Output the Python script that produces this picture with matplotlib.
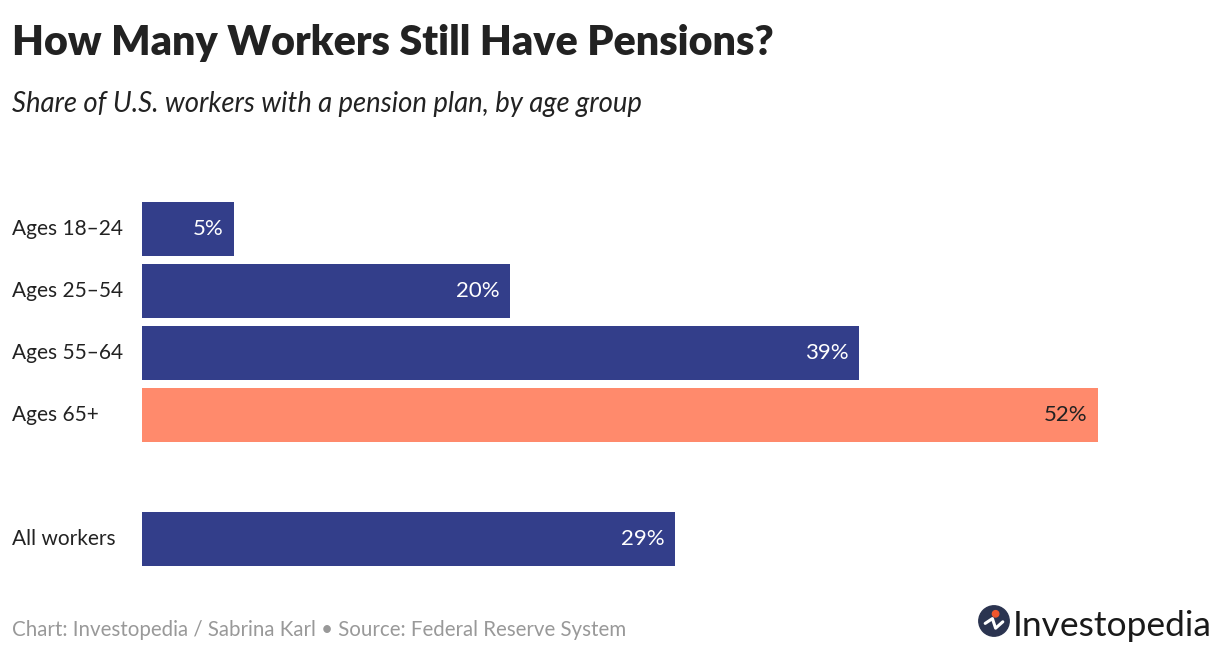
import matplotlib
matplotlib.use("Agg")
import matplotlib.pyplot as plt
from matplotlib.patches import Circle

plt.rcParams["font.family"] = ["Lato", "DejaVu Sans"]

categories = ["Ages 18–24", "Ages 25–54", "Ages 55–64", "Ages 65+", "All workers"]
values = [5, 20, 39, 52, 29]
positions = [0, 1, 2, 3, 5]
highlight = "Ages 65+"

NAVY = "#333e8a"
CORAL = "#ff8a6c"
W, H = 1220, 652

fig = plt.figure(figsize=(W / 100, H / 100), dpi=100)

# axes placed in pixel terms: bars start at x=142, 52% ends at x=1098
left, right = 142, 1098
top, bottom = 198, 570
ax = fig.add_axes([left / W, 1 - bottom / H, (right - left) / W, (bottom - top) / H])

colors = [CORAL if c == highlight else NAVY for c in categories]
ax.barh(positions, values, height=0.87, color=colors)
ax.set_xlim(0, 52)
ax.set_ylim(5.5, -0.5)
ax.axis("off")

for cat, val, pos, col in zip(categories, values, positions, colors):
    txt_col = "#222222" if col == CORAL else "white"
    ax.text(val - 0.55, pos, f"{val}%", ha="right", va="center",
            color=txt_col, fontsize=16)
    ax.text(12 / W, 1 - (top + (pos + 0.5) * 62) / H, cat, transform=fig.transFigure,
            ha="left", va="center", color="#222222", fontsize=15)

fig.text(12 / W, 1 - 55 / H, "How Many Workers Still Have Pensions?",
         fontsize=29.7, fontweight="heavy", color="#222222", ha="left", va="baseline")
fig.text(12 / W, 1 - 112 / H, "Share of U.S. workers with a pension plan, by age group",
         fontsize=19.8, style="italic", color="#222222", ha="left", va="baseline")
fig.text(12 / W, 1 - 636 / H,
         "Chart: Investopedia / Sabrina Karl • Source: Federal Reserve System",
         fontsize=14.8, color="#999999", ha="left", va="baseline")

# logo
lax = fig.add_axes([978 / W, 1 - 637 / H, 32 / W, 32 / H])
lax.set_xlim(-1, 1)
lax.set_ylim(-1, 1)
lax.set_aspect("equal")
lax.axis("off")
lax.add_patch(Circle((0, 0), 0.95, color="#2b3450"))
lax.plot([-0.55, -0.1, 0.1, 0.55], [-0.15, 0.15, -0.45, -0.05],
         color="white", lw=2.2, solid_capstyle="round")
lax.add_patch(Circle((0.1, 0.45), 0.2, color="#f0562c"))
fig.text(1013 / W, 1 - 636 / H, "Investopedia", fontsize=25.5, color="#1a1a1a",
         ha="left", va="baseline")

fig.savefig("out.png", dpi=100, facecolor="white")
